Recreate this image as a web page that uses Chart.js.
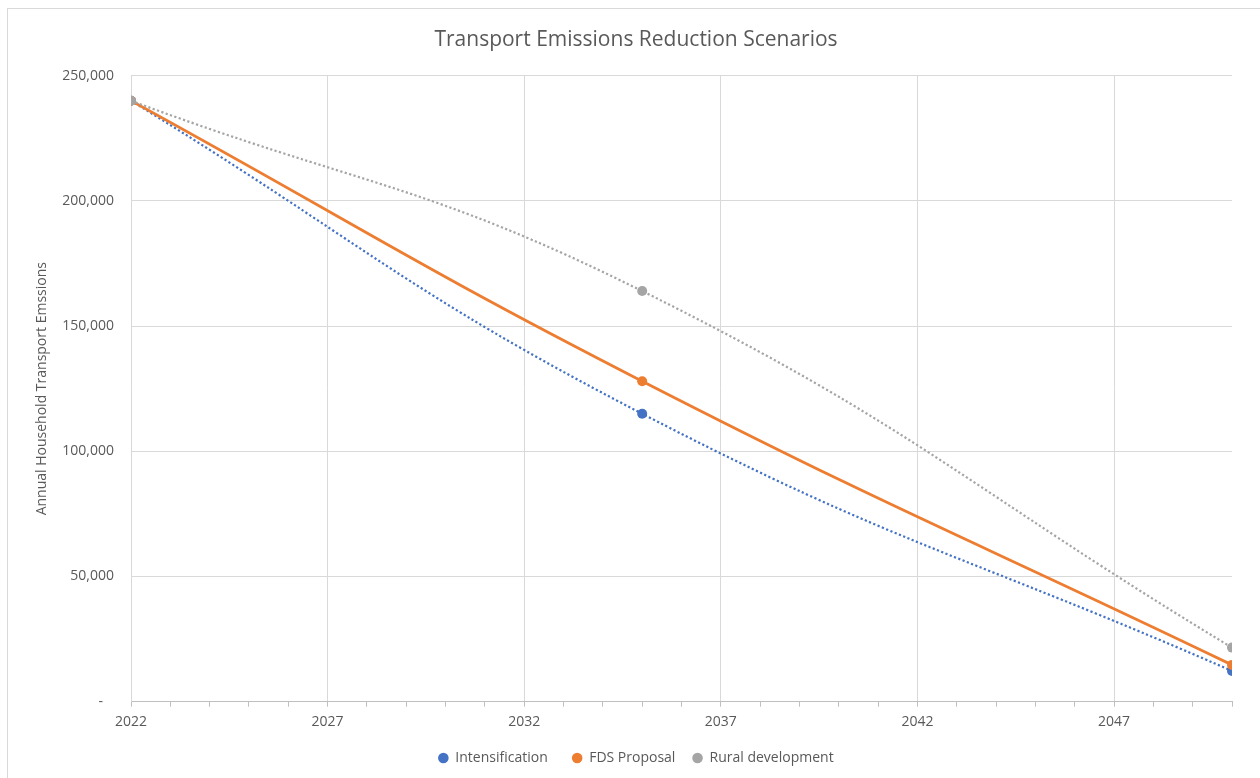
<!DOCTYPE html>
<html>
<head>
<meta charset="utf-8">
<script src="https://cdn.jsdelivr.net/npm/chart.js@4"></script>
<style>
    html, body { margin: 0; padding: 0; background: #fff; }
    #wrap { position: relative; width: 1260px; height: 778px; }
    #frame { position: absolute; left: 7px; top: 8px; right: -2px; bottom: -2px; border: 1px solid #D9D9D9; pointer-events: none; }
</style>
</head>
<body>
<div id="wrap">
    <canvas id="emissionsChart" width="1260" height="778"></canvas>
    <div id="frame"></div>
</div>
<script>
// Chart data
const years = [2022, 2035, 2050];
const intensification = [240000, 115000, 12300];
const fdsProposal = [240000, 128000, 14700];
const ruralDevelopment = [240000, 164000, 21600];
const seriesNames = ['Intensification', 'FDS Proposal', 'Rural development'];
const yTicks = [0, 50000, 100000, 150000, 200000, 250000];

const textColor = '#595959';
const gridColor = '#D9D9D9';
const fontFamily = '"Open Sans", "Noto Sans", sans-serif';

// extra space after each legend entry (Excel spacing)
const legendGaps = ['   ', ' ', ''];

function toPoints(values) {
    return years.map((yr, i) => ({ x: yr, y: values[i] }));
}

function makeDataset(label, values, color, dotted, order) {
    return {
        label: label,
        data: toPoints(values),
        borderColor: color,
        backgroundColor: color,
        pointBackgroundColor: color,
        pointBorderColor: color,
        pointRadius: 5,
        pointBorderWidth: 0,
        borderWidth: dotted ? 2.2 : 2.8,
        borderDash: dotted ? [2.2, 2.4] : [],
        tension: 0.45, // smoothed line like Excel
        order: order
    };
}

document.addEventListener('DOMContentLoaded', function() {
    const ctx = document.getElementById('emissionsChart').getContext('2d');

    new Chart(ctx, {
        type: 'line',
        data: {
            datasets: [
                makeDataset(seriesNames[0], intensification, '#4472C4', true, 3),
                makeDataset(seriesNames[1], fdsProposal, '#ED7D31', false, 2),
                makeDataset(seriesNames[2], ruralDevelopment, '#A5A5A5', true, 1)
            ]
        },
        options: {
            responsive: false,
            animation: false,
            layout: {
                padding: { left: 40, right: 28, top: 8, bottom: 3 }
            },
            plugins: {
                title: {
                    display: true,
                    text: 'Transport Emissions Reduction Scenarios',
                    color: textColor,
                    font: { family: fontFamily, size: 21, weight: 'normal' },
                    padding: { top: 19.5, bottom: 23 }
                },
                legend: {
                    position: 'bottom',
                    maxHeight: 45,
                    labels: {
                        usePointStyle: true,
                        pointStyle: 'circle',
                        boxWidth: 10,
                        boxHeight: 7.5,
                        padding: 13.5,
                        color: textColor,
                        font: { family: fontFamily, size: 14 },
                        sort: (a, b) => a.datasetIndex - b.datasetIndex,
                        generateLabels: function(chart) {
                            const items = Chart.defaults.plugins.legend.labels.generateLabels(chart);
                            items.forEach(item => { item.text += legendGaps[item.datasetIndex]; });
                            return items;
                        }
                    }
                },
                tooltip: { enabled: false }
            },
            scales: {
                x: {
                    type: 'linear',
                    min: 2022,
                    max: 2050,
                    grid: {
                        color: (c) => (c.tick && (c.tick.value - 2022) % 5 === 0) ? gridColor : 'rgba(0,0,0,0)',
                        tickColor: '#BFBFBF',
                        tickLength: 5,
                        drawTicks: true
                    },
                    border: { color: '#BFBFBF', width: 1 },
                    ticks: {
                        stepSize: 1,
                        autoSkip: false,
                        maxRotation: 0,
                        padding: 7,
                        color: textColor,
                        font: { family: fontFamily, size: 14 },
                        callback: function(value) {
                            return (value - 2022) % 5 === 0 ? String(value) : '';
                        }
                    }
                },
                y: {
                    min: 0,
                    max: 250000,
                    afterFit: function(scale) { scale.width = 91; },
                    afterBuildTicks: function(scale) {
                        scale.ticks = yTicks.map(v => ({ value: v }));
                    },
                    grid: { color: gridColor, drawTicks: false },
                    border: { color: gridColor, width: 1 },
                    title: {
                        display: true,
                        text: 'Annual Household Transport Emssions',
                        color: textColor,
                        font: { family: fontFamily, size: 14 },
                        padding: { top: -6, bottom: 0 }
                    },
                    ticks: {
                        padding: 17,
                        color: textColor,
                        font: { family: fontFamily, size: 14 },
                        callback: function(value) {
                            return value === 0 ? '-   ' : value.toLocaleString('en-US');
                        }
                    }
                }
            }
        }
    });
});
</script>
</body>
</html>
